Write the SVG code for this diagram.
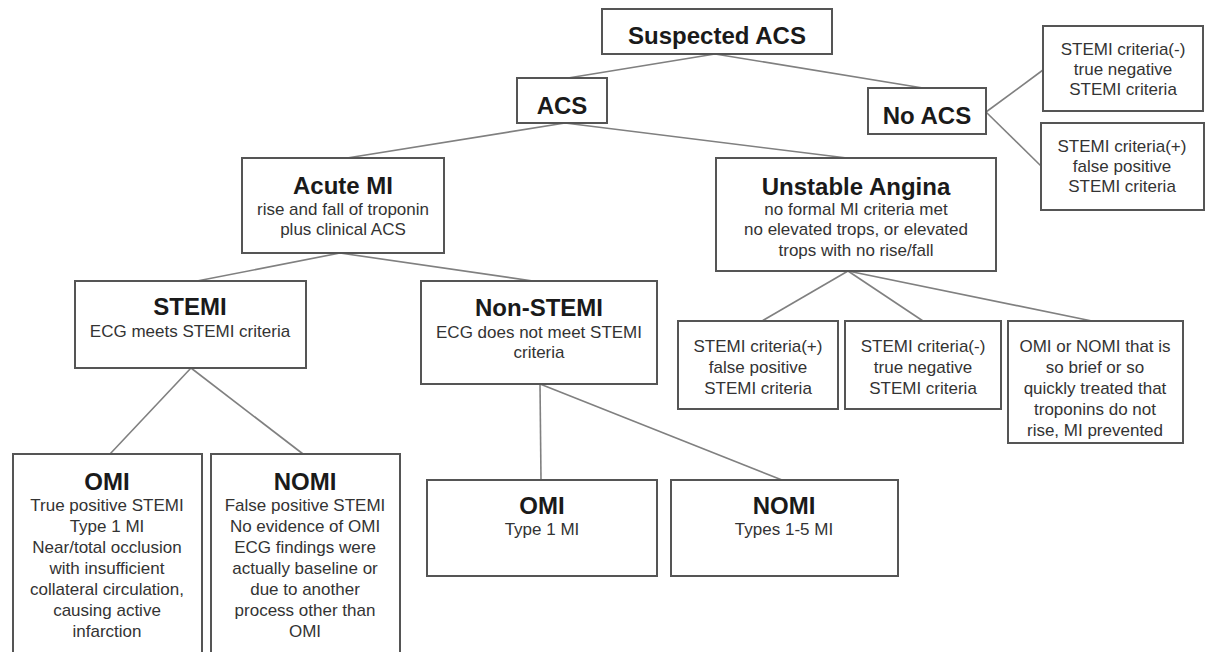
<svg xmlns="http://www.w3.org/2000/svg" width="1206" height="652" viewBox="0 0 1206 652">
<style>
.box{fill:#fff;stroke:#555;stroke-width:2}
.ln{stroke:#808080;stroke-width:1.6;fill:none}
.t{font-family:"Liberation Sans",Arial,sans-serif;font-weight:bold;font-size:24px;fill:#1a1a1a;text-anchor:middle}
.s{font-family:"Liberation Sans",Arial,sans-serif;font-size:17px;fill:#333;text-anchor:middle}
</style>
<rect width="1206" height="652" fill="#fff"/>
<g id="connectors">
<line class="ln" x1="715" y1="54" x2="568" y2="78"/>
<line class="ln" x1="715" y1="54" x2="923" y2="88"/>
<line class="ln" x1="565" y1="123" x2="347" y2="158"/>
<line class="ln" x1="565" y1="123" x2="847" y2="158"/>
<line class="ln" x1="986" y1="112" x2="1043" y2="70"/>
<line class="ln" x1="986" y1="112" x2="1041" y2="166"/>
<line class="ln" x1="340" y1="253" x2="197" y2="281"/>
<line class="ln" x1="340" y1="253" x2="533" y2="281"/>
<line class="ln" x1="848" y1="271" x2="762" y2="321"/>
<line class="ln" x1="848" y1="271" x2="923" y2="321"/>
<line class="ln" x1="848" y1="271" x2="1092" y2="321"/>
<line class="ln" x1="191" y1="368" x2="110" y2="454"/>
<line class="ln" x1="191" y1="368" x2="303" y2="454"/>
<line class="ln" x1="540" y1="384" x2="541" y2="480"/>
<line class="ln" x1="540" y1="384" x2="782" y2="480"/>
</g>
<g id="suspected-acs">
<rect class="box" x="602" y="9" width="230" height="45"/>
<text class="t" x="717" y="44">Suspected ACS</text>
</g>
<g id="acs">
<rect class="box" x="517" y="78" width="90" height="45"/>
<text class="t" x="562" y="114">ACS</text>
</g>
<g id="no-acs">
<rect class="box" x="868" y="88" width="118" height="46"/>
<text class="t" x="927" y="124">No ACS</text>
</g>
<g id="noacs-neg">
<rect class="box" x="1043" y="26" width="160" height="85"/>
<text class="s" x="1123" y="55">STEMI criteria(-)</text>
<text class="s" x="1123" y="75">true negative</text>
<text class="s" x="1123" y="95">STEMI criteria</text>
</g>
<g id="noacs-pos">
<rect class="box" x="1041" y="123" width="163" height="87"/>
<text class="s" x="1122" y="152">STEMI criteria(+)</text>
<text class="s" x="1122" y="172">false positive</text>
<text class="s" x="1122" y="192">STEMI criteria</text>
</g>
<g id="acute-mi">
<rect class="box" x="242" y="158" width="202" height="95"/>
<text class="t" x="343" y="194">Acute MI</text>
<text class="s" x="343" y="215">rise and fall of troponin</text>
<text class="s" x="343" y="235">plus clinical ACS</text>
</g>
<g id="unstable-angina">
<rect class="box" x="716" y="158" width="280" height="113"/>
<text class="t" x="856" y="195">Unstable Angina</text>
<text class="s" x="856" y="215">no formal MI criteria met</text>
<text class="s" x="856" y="235">no elevated trops, or elevated</text>
<text class="s" x="856" y="256">trops with no rise/fall</text>
</g>
<g id="stemi">
<rect class="box" x="75" y="281" width="231" height="87"/>
<text class="t" x="190" y="315">STEMI</text>
<text class="s" x="190" y="337">ECG meets STEMI criteria</text>
</g>
<g id="non-stemi">
<rect class="box" x="421" y="281" width="236" height="103"/>
<text class="t" x="539" y="316">Non-STEMI</text>
<text class="s" x="539" y="338">ECG does not meet STEMI</text>
<text class="s" x="539" y="358">criteria</text>
</g>
<g id="ua-pos">
<rect class="box" x="678" y="321" width="160" height="88"/>
<text class="s" x="758" y="352">STEMI criteria(+)</text>
<text class="s" x="758" y="373">false positive</text>
<text class="s" x="758" y="394">STEMI criteria</text>
</g>
<g id="ua-neg">
<rect class="box" x="845" y="321" width="156" height="88"/>
<text class="s" x="923" y="352">STEMI criteria(-)</text>
<text class="s" x="923" y="373">true negative</text>
<text class="s" x="923" y="394">STEMI criteria</text>
</g>
<g id="ua-brief">
<rect class="box" x="1008" y="321" width="175" height="122"/>
<text class="s" x="1095" y="352">OMI or NOMI that is</text>
<text class="s" x="1095" y="373">so brief or so</text>
<text class="s" x="1095" y="394">quickly treated that</text>
<text class="s" x="1095" y="415">troponins do not</text>
<text class="s" x="1095" y="436">rise, MI prevented</text>
</g>
<g id="stemi-omi">
<rect class="box" x="13" y="454" width="189" height="210"/>
<text class="t" x="107" y="490">OMI</text>
<text class="s" x="107" y="511">True positive STEMI</text>
<text class="s" x="107" y="532">Type 1 MI</text>
<text class="s" x="107" y="553">Near/total occlusion</text>
<text class="s" x="107" y="574">with insufficient</text>
<text class="s" x="107" y="595">collateral circulation,</text>
<text class="s" x="107" y="616">causing active</text>
<text class="s" x="107" y="637">infarction</text>
</g>
<g id="stemi-nomi">
<rect class="box" x="211" y="454" width="189" height="210"/>
<text class="t" x="305" y="490">NOMI</text>
<text class="s" x="305" y="511">False positive STEMI</text>
<text class="s" x="305" y="532">No evidence of OMI</text>
<text class="s" x="305" y="553">ECG findings were</text>
<text class="s" x="305" y="574">actually baseline or</text>
<text class="s" x="305" y="595">due to another</text>
<text class="s" x="305" y="616">process other than</text>
<text class="s" x="305" y="637">OMI</text>
</g>
<g id="nstemi-omi">
<rect class="box" x="427" y="480" width="230" height="96"/>
<text class="t" x="542" y="514">OMI</text>
<text class="s" x="542" y="535">Type 1 MI</text>
</g>
<g id="nstemi-nomi">
<rect class="box" x="671" y="480" width="227" height="96"/>
<text class="t" x="784" y="514">NOMI</text>
<text class="s" x="784" y="535">Types 1-5 MI</text>
</g>
</svg>
